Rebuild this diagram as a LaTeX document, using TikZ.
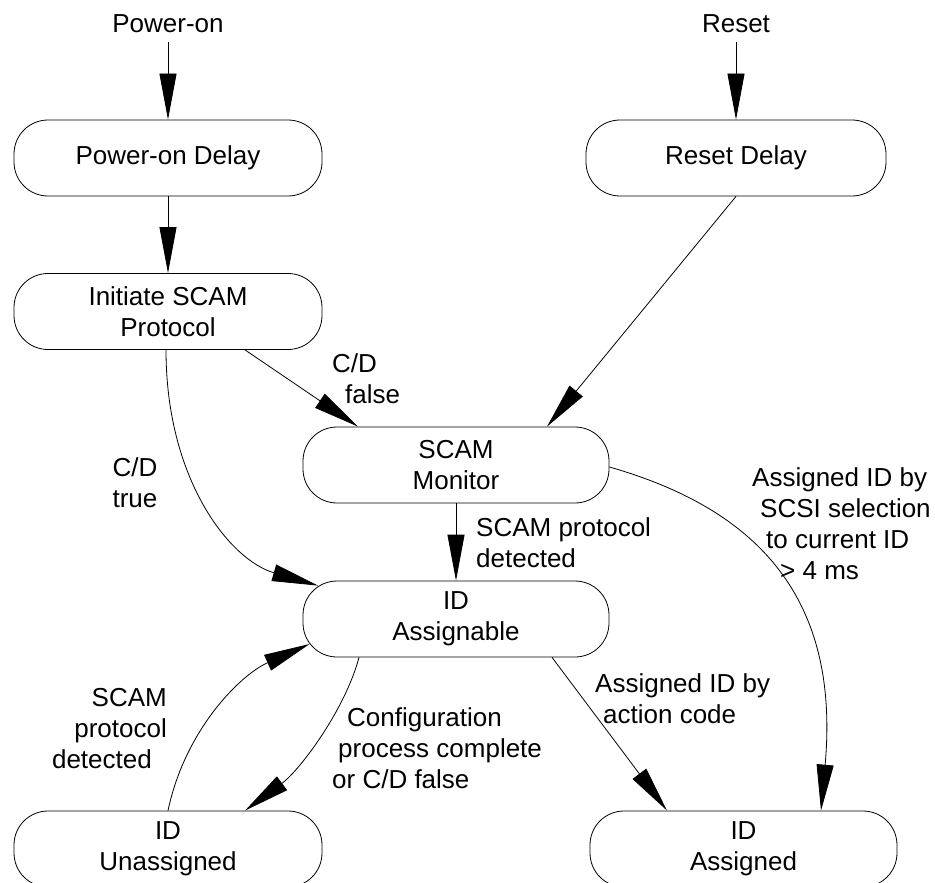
\documentclass[tikz,border=0pt]{standalone}
\usepackage{fontspec}
\setmainfont{Liberation Sans}
\usetikzlibrary{arrows.meta,calc}
\begin{document}
\begin{tikzpicture}[x=1pt,y=-1pt,
  font=\fontsize{26}{31}\selectfont,
  stbox/.style={draw, line width=0.8pt, rounded corners=34pt, minimum height=76pt, inner sep=0pt, align=center},
  arr/.style={line width=0.8pt, -{Triangle[length=46pt,width=17pt]}},
  lbl/.style={inner sep=0pt, align=left},
  ]
\useasboundingbox (0,0) rectangle (935,883);
\clip (0,0) rectangle (935,883);
\fill[white] (0,0) rectangle (935,883);

% inputs
\node[inner sep=9pt] (pon) at (168,24) {Power-on};
\node[inner sep=9pt] (rst) at (736,24) {Reset};

% states
\node[stbox, minimum width=308pt] (pod) at (168,158) {Power-on Delay};
\node[stbox, minimum width=308pt] (isp) at (168,311.5) {Initiate SCAM\\Protocol};
\node[stbox, minimum width=300pt] (rd) at (736,158) {Reset Delay};
\node[stbox, minimum width=306pt] (sm) at (456,465) {SCAM\\Monitor};
\node[stbox, minimum width=306pt] (ida) at (456,619) {ID\\Assignable};
\node[stbox, minimum width=308pt] (idu) at (168,849) {ID\\Unassigned};
\node[stbox, minimum width=307pt] (idas) at (743.5,849) {ID\\Assigned};

% labels
\node[lbl, anchor=north west] (l1) at (332,353) {C/D\\\hspace*{13pt}false};
\node[lbl, align=center, anchor=north] (l2) at (135,457) {C/D\\true};
\node[lbl, anchor=north west] (l3) at (476,517) {SCAM protocol\\detected};
\node[lbl, align=right, anchor=north east] (l4) at (167,688) {SCAM\\protocol\hspace*{7pt}\\detected\hspace*{15pt}};
\node[lbl, anchor=north west] (l5) at (332,707) {\hspace*{15pt}Configuration\\\hspace*{6pt}process complete\\or C/D false};
\node[lbl, anchor=north west] (l6) at (595,673) {Assigned ID by\\\hspace*{8pt}action code};
\node[lbl, anchor=north west] (l7) at (752,467) {Assigned ID by\\\hspace*{8pt}SCSI selection\\\hspace*{14pt}to current ID\\\hspace*{28pt}> 4 ms};

% connectors
\draw[arr] (pon.south) -- (pod.north);
\draw[arr] (pod.south) -- (isp.north);
\draw[arr] (rst.south) -- (rd.north);
\draw[arr] (rd.south) -- ($(sm.north)+(91,0)$);
\draw[arr] ($(isp.south)+(77,0)$) -- ($(sm.north)+(-98,0)$);
\draw[arr] ($(isp.south)+(-2,0)$) .. controls (166,480) and (230,560) .. ($(ida.north)+(-138,5)$);
\draw[arr] (sm.south) -- (ida.north);
\draw[arr] (idu.north) .. controls (185,730) and (240,675) .. ($(ida.west)+(7,25)$);
\draw[arr] ($(ida.south)+(-97,0)$) .. controls (345,710) and (300,770) .. ($(idu.north)+(77,0)$);
\draw[arr] ($(ida.south)+(96,0)$) -- ($(idas.north)+(-76.5,0)$);
\draw[arr] ($(sm.east)+(0,2)$) .. controls (760,510) and (840,600) .. ($(idas.north)+(77.5,0)$);
\end{tikzpicture}
\end{document}
